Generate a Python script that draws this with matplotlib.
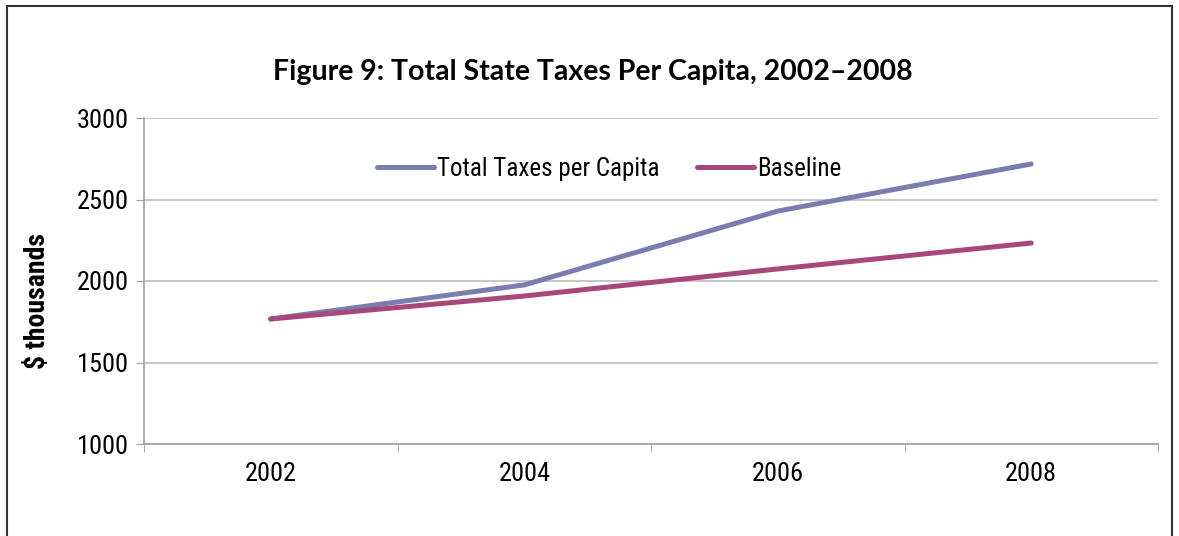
import matplotlib
matplotlib.use("Agg")
import matplotlib.pyplot as plt
from matplotlib.patches import Rectangle

years = ["2002", "2004", "2006", "2008"]
total_taxes = [1767, 1976, 2429, 2718]
baseline = [1767, 1908, 2074, 2233]
yticks = [1000, 1500, 2000, 2500, 3000]

cond = "Roboto Condensed"

fig = plt.figure(figsize=(11.79, 5.36), dpi=100)
fig.patch.set_facecolor("white")
ax = fig.add_axes([144/1179, 1-444/536, (1158-144)/1179, (444-118)/536])

x = list(range(len(years)))
ax.plot(x, total_taxes, color="#7B7DB0", lw=3.6, solid_capstyle="round",
        solid_joinstyle="round", label="Total Taxes per Capita", zorder=3)
ax.plot(x, baseline, color="#A8487A", lw=3.6, solid_capstyle="round",
        solid_joinstyle="round", label="Baseline", zorder=4)

ax.set_xlim(-0.5, len(years) - 0.5)
ax.set_ylim(1000, 3000)
ax.set_yticks(yticks)
ax.set_yticklabels([str(v) for v in yticks], family=cond, fontsize=19)
ax.set_xticks(x)
ax.set_xticklabels(years, family=cond, fontsize=19)
ax.set_xticks([i - 0.5 for i in range(len(years) + 1)], minor=True)
ax.tick_params(axis="x", which="major", length=0, pad=13)
ax.tick_params(axis="x", which="minor", length=6, color="#A0A0A0")
ax.tick_params(axis="y", length=6, color="#A0A0A0", pad=5)

ax.grid(axis="y", color="#BEBEBE", lw=1.2)
ax.set_axisbelow(True)
for s in ["top", "right"]:
    ax.spines[s].set_visible(False)
for s in ["left", "bottom"]:
    ax.spines[s].set_color("#A0A0A0")
    ax.spines[s].set_linewidth(1.2)

ax.set_ylabel("$ thousands", family=cond, fontsize=20, fontweight="bold")
ax.yaxis.set_label_coords(-0.092, 0.44)

leg = ax.legend(loc="center", bbox_to_anchor=(0.4586, 0.8436), ncol=2, frameon=False,
                prop={"family": cond, "size": 18}, handlelength=2.3, handletextpad=0.1,
                columnspacing=1.5)

fig.text(593/1179, 1-72/536, "Figure 9: Total State Taxes Per Capita, 2002\u20132008",
         ha="center", va="center", fontsize=20.5, fontweight="bold", family="Lato")

fig.add_artist(Rectangle((7/1179, -0.05), (1172-7)/1179, 1.05 - 6/536,
                         transform=fig.transFigure, fill=False, ec="#333333", lw=1.5))

fig.savefig("out.png", dpi=100)
